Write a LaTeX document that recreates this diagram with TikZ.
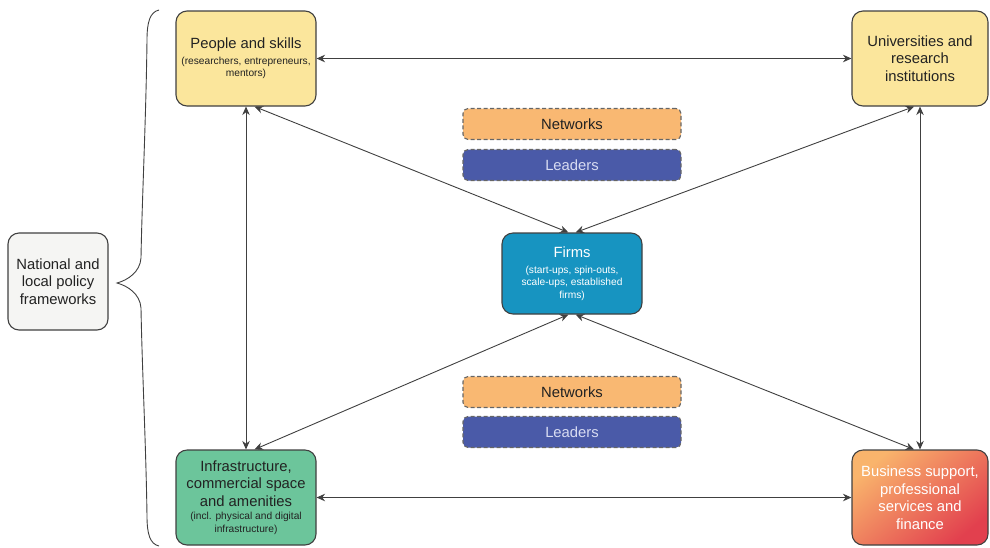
\documentclass[tikz,border=0pt]{standalone}
\usepackage{fontspec}
\setmainfont{Liberation Sans}
\usetikzlibrary{arrows.meta}
\definecolor{bordergray}{HTML}{404040}
\definecolor{txt}{HTML}{222222}
\definecolor{yel}{HTML}{FBE69C}
\definecolor{firmblue}{HTML}{1794C1}
\definecolor{infgreen}{HTML}{6CC59B}
\definecolor{bsorange}{HTML}{F9B46C}
\definecolor{bsred}{HTML}{E2404E}
\definecolor{netorange}{HTML}{F9B872}
\definecolor{leadblue}{HTML}{4A5AA8}
\definecolor{leadtxt}{HTML}{D8DCF2}
\definecolor{natgray}{HTML}{F5F5F3}
\newcommand{\smalltxt}{\fontsize{10.2}{12}\selectfont}
\newcommand{\bigtxt}{\fontsize{14.8}{17.5}\selectfont}
\tikzset{
  mainbox/.style={draw=bordergray, line width=1.1pt, rounded corners=11pt, align=center, text=txt, inner sep=0pt, font=\bigtxt},
  tagbox/.style={draw=bordergray!80, line width=1.1pt, dash pattern=on 4pt off 2.5pt, rounded corners=5pt, minimum width=218pt, minimum height=31pt, inner sep=0pt, font=\bigtxt},
  link/.style={draw=bordergray, line width=0.9pt, {Stealth[length=8.5pt,width=7.5pt]}-{Stealth[length=8.5pt,width=7.5pt]}}
}
\begin{document}
\begin{tikzpicture}[x=1pt,y=-1pt]
\useasboundingbox (0,0) rectangle (990,547);
% nodes
\node[mainbox, fill=yel, minimum width=140pt, minimum height=95pt] (people) at (246,58.5)
  {People and skills\\[-2pt]\smalltxt (researchers, entrepreneurs,\\[-5pt]\smalltxt mentors)};
\node[mainbox, fill=yel, minimum width=136pt, minimum height=95pt] (univ) at (920,58.5)
  {Universities and\\research\\institutions};
\node[mainbox, fill=firmblue, text=white, minimum width=140pt, minimum height=81pt] (firms) at (572,273.5)
  {Firms\\[-2pt]\smalltxt (start-ups, spin-outs,\\[-5pt]\smalltxt scale-ups, established\\[-5pt]\smalltxt firms)};
\node[mainbox, fill=infgreen, minimum width=140pt, minimum height=95pt] (infra) at (246,497.5)
  {Infrastructure,\\commercial space\\and amenities\\[-4pt]\smalltxt (incl. physical and digital\\[-5pt]\smalltxt infrastructure)};
\node[mainbox, top color=bsorange, bottom color=bsred, shading angle=40, text=white, minimum width=136pt, minimum height=95pt] (bus) at (920,497.5)
  {Business support,\\professional\\services and\\finance};
\node[mainbox, fill=natgray, minimum width=100pt, minimum height=97pt] (nat) at (58,281.5)
  {National and\\local policy\\frameworks};
\node[tagbox, fill=netorange, text=txt] (net1) at (572,124) {Networks};
\node[tagbox, fill=leadblue, text=leadtxt] (lead1) at (572,165) {Leaders};
\node[tagbox, fill=netorange, text=txt] (net2) at (572,392) {Networks};
\node[tagbox, fill=leadblue, text=leadtxt] (lead2) at (572,432) {Leaders};
% brace
\coordinate (btop) at (159,10);
\coordinate (btip) at (117,283);
\coordinate (bbot) at (159,546);
\draw[bordergray, line width=0.9pt] (btop) .. controls (150,12) and (147,22) .. (147,40)
  .. controls (146,120) and (142,200) .. (141,258)
  .. controls (140,272) and (128,280) .. (btip)
  .. controls (128,286) and (140,294) .. (141,308)
  .. controls (142,366) and (146,446) .. (147,516)
  .. controls (147,534) and (150,544) .. (bbot);
% connectors
\draw[link] (people.east) -- (univ.west);
\draw[link] (infra.east) -- (bus.west);
\draw[link] (people.south) -- (infra.north);
\draw[link] (univ.south) -- (bus.north);
\draw[link] (people.-80) -- (firms.95);
\draw[link] (univ.-97) -- (firms.85);
\draw[link] (infra.80) -- (firms.-95);
\draw[link] (bus.97) -- (firms.-85);
\end{tikzpicture}
\end{document}
